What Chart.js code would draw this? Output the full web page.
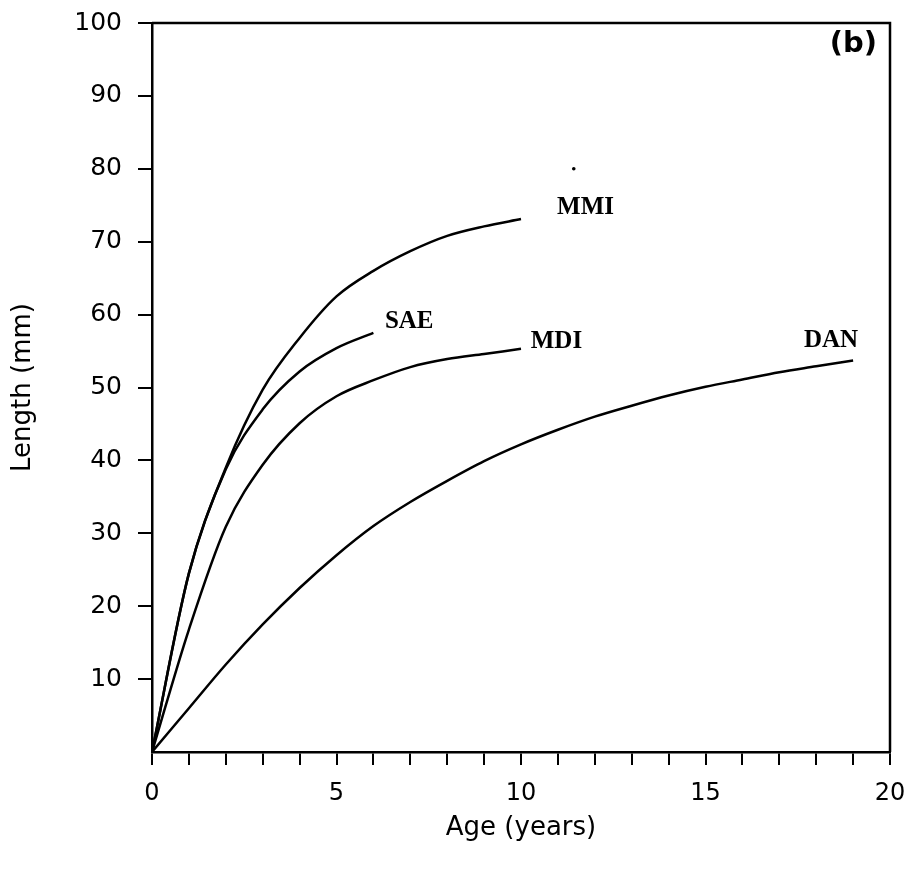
<!DOCTYPE html>
<html><head><meta charset="utf-8">
<script src="https://cdn.jsdelivr.net/npm/chart.js@4.4.1/dist/chart.umd.min.js"></script>
<style>html,body{margin:0;padding:0;background:#fff}</style>
</head><body>
<canvas id="c" width="913" height="870"></canvas>
<script>
// ---- data ----
const ageMMI = [0,1,2,3,4,5,6,7,8,9,10];
const lenMMI = [0,24.5,39,49.7,56.8,62.5,66,68.7,70.8,72.1,73.1];
const ageSAE = [0,1,2,3,4,5,6];
const lenSAE = [0,24.5,38.8,47,52.2,55.4,57.5];
const ageMDI = [0,1,2,3,4,5,6,7,8,9,10];
const lenMDI = [0,16.8,30.9,39.4,45.1,48.8,51,52.8,53.9,54.6,55.3];
const ageDAN = [0,1,2,3,4,5,6,7,8,9,10,11,12,13,14,15,16,17,18,19];
const lenDAN = [0,6,12,17.5,22.5,27,31,34.3,37.2,39.9,42.2,44.2,46,47.5,48.9,50.1,51.1,52.1,52.9,53.7];
const curveNames = ['MMI','SAE','MDI','DAN'];
const nameAges = [11.75,6.97,10.96,18.4];
const nameLens = [73.8,58.2,55.4,55.5];
const dotAge = [11.43];
const dotLen = [80];
const xTickLabels = [0,5,10,15,20];
const yTickLabels = [10,20,30,40,50,60,70,80,90,100];
const panelLabel = '(b)';

const pts = (xs, ys) => xs.map((x, i) => ({x: x, y: ys[i]}));
const lineStyle = {borderColor:'#000', borderWidth:2.5, pointRadius:0, cubicInterpolationMode:'monotone', fill:false, showLine:true};
const zeroPad = s => { s.paddingTop = 0; s.paddingBottom = 0; s.paddingLeft = 0; s.paddingRight = 0; };

const framePlugin = {
  id:'frame',
  afterDraw(chart){
    const {ctx, chartArea:a} = chart;
    ctx.save();
    ctx.strokeStyle = '#000';
    ctx.lineWidth = 2.5;
    ctx.beginPath();
    ctx.moveTo(a.left, a.top); ctx.lineTo(a.right, a.top); ctx.lineTo(a.right, a.bottom);
    ctx.stroke();
    ctx.font = 'bold 29px "DejaVu Sans"';
    ctx.fillStyle = '#000';
    ctx.textAlign = 'right';
    ctx.textBaseline = 'middle';
    ctx.fillText(panelLabel, a.right - 13, a.top + 21);
    ctx.restore();
  }
};
const namesPlugin = {
  id:'names',
  afterDatasetsDraw(chart){
    const {ctx} = chart;
    const xs = chart.scales.x, ys = chart.scales.y;
    ctx.save();
    ctx.font = 'bold 25px "Liberation Serif"';
    ctx.fillStyle = '#000';
    ctx.textAlign = 'center';
    ctx.textBaseline = 'alphabetic';
    curveNames.forEach((n, i) => {
      ctx.fillText(n, xs.getPixelForValue(nameAges[i]), ys.getPixelForValue(nameLens[i]));
    });
    ctx.restore();
  }
};

new Chart(document.getElementById('c'), {
  type:'scatter',
  data:{datasets:[
    Object.assign({label:'MMI', data:pts(ageMMI, lenMMI)}, lineStyle),
    Object.assign({label:'SAE', data:pts(ageSAE, lenSAE)}, lineStyle),
    Object.assign({label:'MDI', data:pts(ageMDI, lenMDI)}, lineStyle),
    Object.assign({label:'DAN', data:pts(ageDAN, lenDAN)}, lineStyle),
    {label:'dot', data:pts(dotAge, dotLen), showLine:false, pointRadius:1.8, backgroundColor:'#000', borderWidth:0}
  ]},
  options:{
    responsive:false, animation:false, devicePixelRatio:1,
    layout:{padding:{top:23, right:23, left:0, bottom:0}},
    plugins:{legend:{display:false}, tooltip:{enabled:false}},
    scales:{
      x:{
        type:'linear', min:0, max:20,
        afterFit(s){ s.height = 118; zeroPad(s); },
        border:{display:true, color:'#000', width:2.5},
        grid:{drawOnChartArea:false, drawTicks:true, tickLength:13, color:'#000', lineWidth:2},
        ticks:{stepSize:1, autoSkip:false, maxRotation:0, color:'#000', padding:14,
          font:{family:'"DejaVu Sans"', size:24},
          callback:v => xTickLabels.includes(v) ? String(v) : ''},
        title:{display:true, text:'Age (years)', color:'#000', font:{family:'"DejaVu Sans"', size:26}, padding:{top:0, bottom:26}}
      },
      y:{
        type:'linear', min:0, max:100,
        afterFit(s){ s.width = 152; zeroPad(s); },
        border:{display:true, color:'#000', width:2.5},
        grid:{drawOnChartArea:false, drawTicks:true, tickLength:14, lineWidth:2,
          color:c => (c.tick && c.tick.value === 0) ? 'rgba(0,0,0,0)' : '#000'},
        ticks:{stepSize:10, color:'#000', padding:16,
          font:{family:'"DejaVu Sans"', size:25},
          callback:v => yTickLabels.includes(v) ? String(v) : ''},
        title:{display:true, text:'Length (mm)', color:'#000', font:{family:'"DejaVu Sans"', size:26}, padding:{top:8, bottom:0}}
      }
    }
  },
  plugins:[framePlugin, namesPlugin]
});
</script>
</body></html>
